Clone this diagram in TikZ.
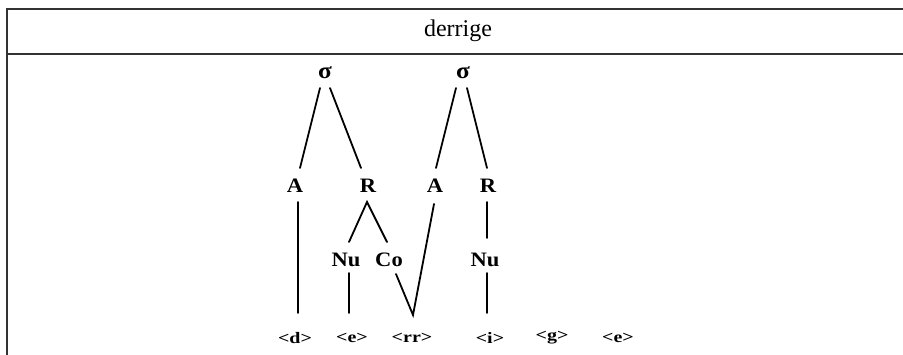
\documentclass[tikz,border=0pt]{standalone}
\usepackage{fontspec}
\usepackage{graphicx}
\setmainfont{Liberation Serif}
\usetikzlibrary{calc}
% Bold category labels of the syllable tree, slightly widened
\newcommand\catlab[1]{\scalebox{1.1}[1]{\fontsize{20.5}{24}\selectfont\bfseries #1}}
\newcommand\sylllab{\scalebox{1.1}[1]{\fontsize{23}{27}\selectfont\bfseries σ}}
% Grapheme labels on the bottom row
\newcommand\graphlab[1]{\scalebox{1.25}[1]{\fontsize{16}{19}\selectfont\bfseries #1}}
\begin{document}
\begin{tikzpicture}[x=1pt,y=-1pt,
  rule/.style={line width=1.2pt, draw=black!80},
  branch/.style={line width=1.8pt, line cap=round},
  cat/.style={inner sep=0pt, anchor=center},
  graph/.style={inner sep=0pt, anchor=center}]
\useasboundingbox (0,0) rectangle (903,355);
\clip (0,0) rectangle (903,355);

% table frame and header
\node[inner sep=0pt, anchor=base, font=\fontsize{24}{28}\selectfont] (tag) at (29,-4) {(c)};
\draw[rule] (7,355) coordinate (bl) -- (7,9) coordinate (tl) -- (903,9) coordinate (tr);
\draw[rule] (7,54) coordinate (hl) -- (903,54) coordinate (hr);
\node[inner sep=0pt, anchor=base, font=\fontsize{24}{28}\selectfont] (word) at (458,36.5) {derrige};

% syllable nodes
\node[cat] (s1) at (325,73) {\sylllab};
\node[cat] (s2) at (463,73) {\sylllab};
% onsets and rhymes
\node[cat] (A1) at (295,186) {\catlab{A}};
\node[cat] (R1) at (368,186) {\catlab{R}};
\node[cat] (A2) at (435,186) {\catlab{A}};
\node[cat] (R2) at (488,186) {\catlab{R}};
% nuclei and coda
\node[cat] (N1) at (346,260) {\catlab{Nu}};
\node[cat] (C1) at (389,260) {\catlab{Co}};
\node[cat] (N2) at (485,260) {\catlab{Nu}};
% graphemes
\node[graph] (g1) at (295,338) {\graphlab{<d>}};
\node[graph] (g2) at (352,338) {\graphlab{<e>}};
\node[graph] (g3) at (412,338) {\graphlab{<rr>}};
\node[graph] (g4) at (490,338) {\graphlab{<i>}};
\node[graph] (g5) at (552,338) {\graphlab{<g>}};
\node[graph] (g6) at (618,338) {\graphlab{<e>}};

% branches
\draw[branch] ($(s1)+(-5,15)$) -- ($(A1)+(5,-18)$);
\draw[branch] ($(s1)+(5,15)$) -- ($(R1)+(-7,-18)$);
\draw[branch] ($(s2)+(-7,15)$) -- ($(A2)+(1,-18)$);
\draw[branch] ($(s2)+(4,15)$) -- ($(R2)+(-1,-18)$);
\draw[branch] ($(A1)+(3,16)$) -- ($(g1)+(3,-25)$);
\draw[branch] ($(N1)+(3,-18)$) -- ($(R1)+(-1,16)$) -- ($(C1)+(-2,-18)$);
\draw[branch] ($(N1)+(3,13)$) -- ($(g2)+(-3,-25)$);
\draw[branch] ($(C1)+(7,14)$) -- ($(g3)+(1,-23)$) -- ($(A2)+(-1,18)$);
\draw[branch] ($(R2)+(-1,16)$) -- ($(N2)+(2,-22)$);
\draw[branch] ($(N2)+(2,13)$) -- ($(g4)+(-3,-25)$);
\end{tikzpicture}
\end{document}
